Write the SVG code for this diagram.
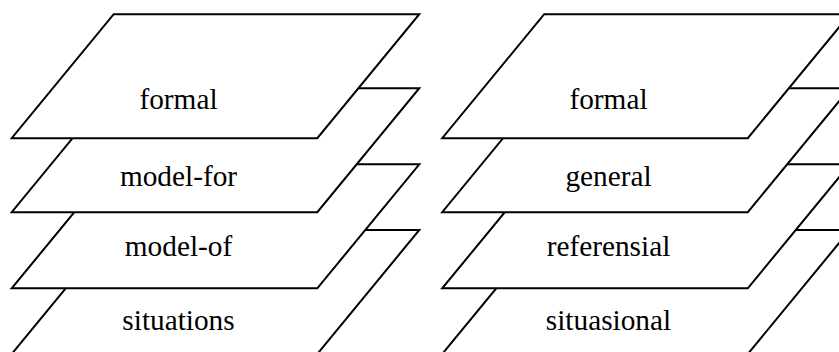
<svg xmlns="http://www.w3.org/2000/svg" width="839" height="352" viewBox="0 0 839 352">
<style>
.layer{fill:#fff;stroke:#000;stroke-width:2;stroke-linejoin:miter}
.lbl{font-family:"Liberation Serif","Times New Roman",serif;font-size:29.3px;fill:#000;text-anchor:middle}
</style>
<defs>
<polygon id="plane" points="102,0 407.6,0 305.6,124 0,124"/>
</defs>
<g id="left-stack" transform="translate(11.7,0)">
<g id="situations"><use href="#plane" class="layer" y="230"/><text class="lbl" x="166.8" y="329.5">situations</text></g>
<g id="model-of"><use href="#plane" class="layer" y="164.3"/><text class="lbl" x="166.8" y="256">model-of</text></g>
<g id="model-for"><use href="#plane" class="layer" y="88.2"/><text class="lbl" x="166.8" y="186">model-for</text></g>
<g id="formal-left"><use href="#plane" class="layer" y="14.2"/><text class="lbl" x="166.8" y="109.3">formal</text></g>
</g>
<g id="right-stack" transform="translate(442.2,0)">
<g id="situasional"><use href="#plane" class="layer" y="230"/><text class="lbl" x="166.3" y="329.5">situasional</text></g>
<g id="referensial"><use href="#plane" class="layer" y="164.3"/><text class="lbl" x="166.3" y="256">referensial</text></g>
<g id="general"><use href="#plane" class="layer" y="88.2"/><text class="lbl" x="166.3" y="186">general</text></g>
<g id="formal-right"><use href="#plane" class="layer" y="14.2"/><text class="lbl" x="166.3" y="109.3">formal</text></g>
</g>
<g id="connectors"/>
</svg>
